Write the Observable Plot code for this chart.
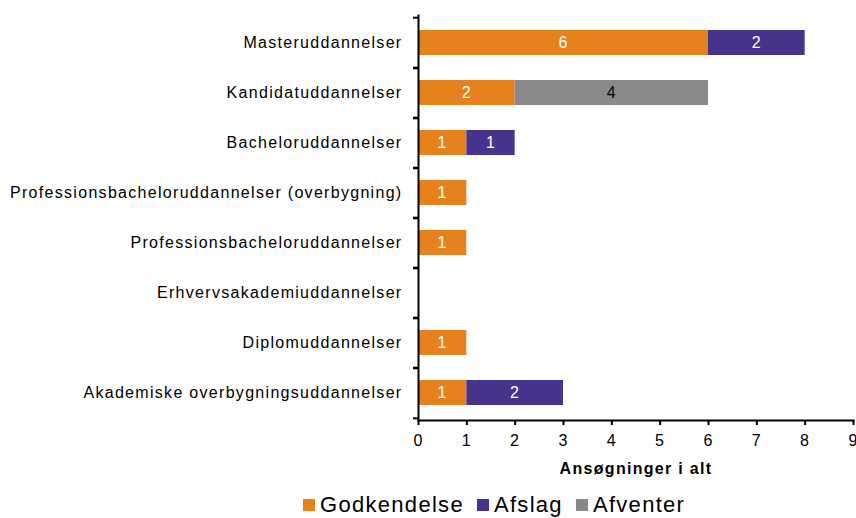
<!DOCTYPE html>
<html>
<head>
<meta charset="utf-8">
<script src="https://cdn.jsdelivr.net/npm/d3@7"></script>
<script src="https://cdn.jsdelivr.net/npm/@observablehq/plot@0.6"></script>
<style>
  html, body { margin: 0; padding: 0; background: #fff; }
  body { width: 856px; height: 518px; position: relative; overflow: hidden; font-family: "Liberation Sans", Arial, sans-serif; }
  #chart svg text { letter-spacing: 1.3px; }
  #legend { position: absolute; left: 303px; top: 490px; height: 30px; display: flex; align-items: center; font-size: 22px; letter-spacing: 1.3px; color: #000; }
  #legend .item { display: flex; align-items: center; margin-right: 13px; }
  #legend .sw { width: 12px; height: 12px; margin-right: 5px; }
</style>
</head>
<body>
<div id="chart"></div>
<div id="legend"></div>
<script>
const categories = [
  "Masteruddannelser",
  "Kandidatuddannelser",
  "Bacheloruddannelser",
  "Professionsbacheloruddannelser (overbygning)",
  "Professionsbacheloruddannelser",
  "Erhvervsakademiuddannelser",
  "Diplomuddannelser",
  "Akademiske overbygningsuddannelser"
];
const statuses = ["Godkendelse", "Afslag", "Afventer"];
const colors = ["#E6821E", "#47338C", "#898989"];
const godkendelse = [6, 2, 1, 1, 1, 0, 1, 1];
const afslag      = [2, 0, 1, 0, 0, 0, 0, 2];
const afventer    = [0, 4, 0, 0, 0, 0, 0, 0];
const xTicks = [0, 1, 2, 3, 4, 5, 6, 7, 8, 9];
const xLabel = "Ansøgninger i alt";

const series = [godkendelse, afslag, afventer];
const data = [];
statuses.forEach((s, si) => {
  categories.forEach((c, ci) => {
    const v = series[si][ci];
    if (v > 0) data.push({cat: c, status: s, value: v});
  });
});

const W = 856, H = 478, mTop = 15, mBottom = 58;
const step = (H - mTop - mBottom) / categories.length;

const chart = Plot.plot({
  width: W,
  height: H,
  marginLeft: 418,
  marginRight: 3,
  marginTop: mTop,
  marginBottom: mBottom,
  style: {fontFamily: "'Liberation Sans', Arial, sans-serif", fontSize: "16px", color: "#000", background: "#fff"},
  x: {domain: [0, 9], axis: null},
  y: {domain: categories, paddingInner: 0.5, paddingOuter: 0.25, axis: null},
  color: {domain: statuses, range: colors},
  marks: [
    Plot.barX(data, Plot.stackX({y: "cat", x: "value", fill: "status", order: statuses})),
    Plot.textX(data, Plot.stackX({
      y: "cat", x: "value", z: "status", order: statuses,
      text: "value",
      fill: d => d.status === "Afventer" ? "#000" : "#fff",
      fontSize: 16
    })),
    Plot.axisY({tickSize: 0, tickPadding: 16, fontSize: 16, label: null, fill: "#000"}),
    Plot.axisY({text: null, tickSize: 5, dy: step / 2, stroke: "#000", strokeWidth: 2, label: null}),
    Plot.axisY({text: null, tickSize: 5, dy: -step / 2, stroke: "#000", strokeWidth: 2, label: null}),
    Plot.axisX({ticks: xTicks, tickSize: 5, tickPadding: 9, fontSize: 16, stroke: "#000", strokeWidth: 2, fill: "#000", label: null, tickFormat: d => String(d)}),
    Plot.frame({anchor: "left", stroke: "#000", strokeWidth: 2}),
    Plot.frame({anchor: "bottom", stroke: "#000", strokeWidth: 2}),
    Plot.text([xLabel], {frameAnchor: "bottom", dy: 53, lineAnchor: "bottom", fontWeight: "bold", fontSize: 16, fill: "#000"})
  ]
});
document.getElementById("chart").appendChild(chart);

const legend = document.getElementById("legend");
statuses.forEach((s, i) => {
  const item = document.createElement("div");
  item.className = "item";
  const sw = document.createElement("div");
  sw.className = "sw";
  sw.style.background = colors[i];
  const t = document.createElement("span");
  t.textContent = s;
  item.appendChild(sw);
  item.appendChild(t);
  legend.appendChild(item);
});
</script>
</body>
</html>
